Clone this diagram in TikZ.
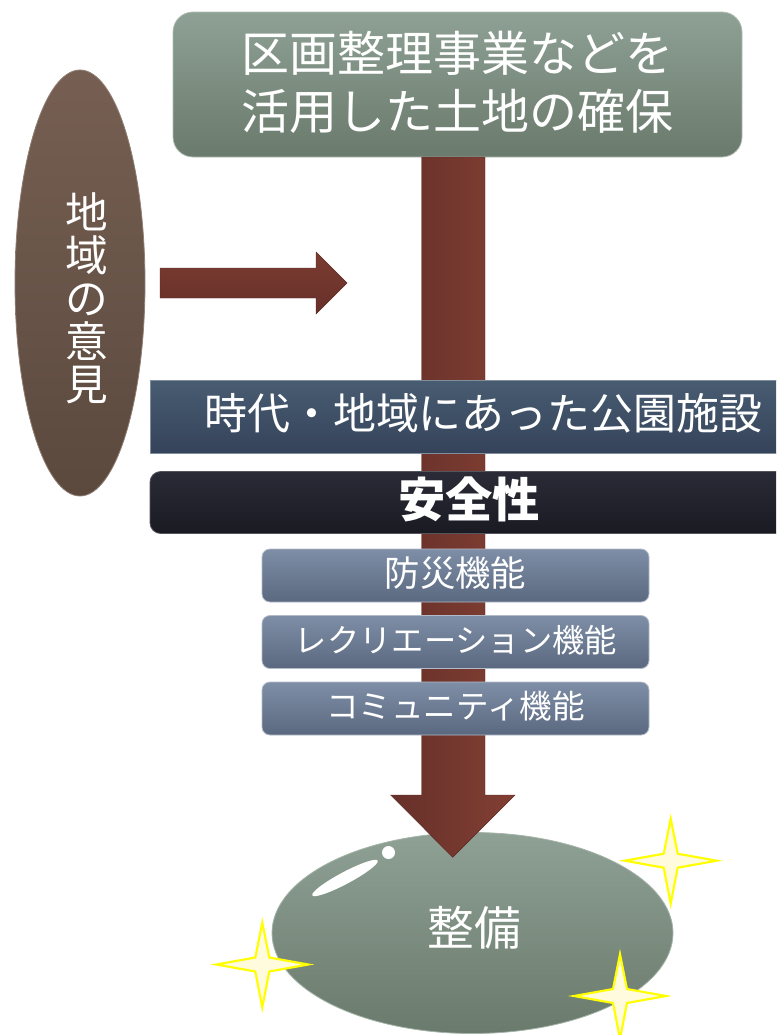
\documentclass[tikz,border=0pt]{standalone}
\usepackage{fontspec}
\setmainfont{Noto Sans CJK JP}
\usetikzlibrary{shapes.geometric}
\def\pxu{0.75pt}
\definecolor{topT}{HTML}{8EA194}
\definecolor{topB}{HTML}{6A7A6D}
\definecolor{opT}{HTML}{765F52}
\definecolor{opB}{HTML}{5B493E}
\definecolor{brL}{HTML}{66302A}
\definecolor{brR}{HTML}{823F33}
\definecolor{b1T}{HTML}{485C72}
\definecolor{b1B}{HTML}{35435A}
\definecolor{b2T}{HTML}{2A2B36}
\definecolor{b2B}{HTML}{191A22}
\definecolor{fT}{HTML}{7E8EA6}
\definecolor{fB}{HTML}{5A6980}
\definecolor{starfill}{HTML}{FFFBDC}
\definecolor{staredge}{HTML}{FFFF00}
\tikzset{
  greenbox/.style={rectangle, rounded corners=15pt, top color=topT, bottom color=topB, draw=topT!70!white, line width=0.6pt, inner sep=0pt},
  opinionshape/.style={ellipse, top color=opT, bottom color=opB, draw=opT!80!white, line width=0.6pt, inner sep=0pt},
  goalshape/.style={ellipse, top color=topT, bottom color=topB, draw=topT!80!white, line width=0.6pt, inner sep=0pt},
  band/.style={rectangle, inner sep=0pt},
  funcbox/.style={rectangle, rounded corners=6pt, top color=fT, bottom color=fB, draw=fT!60!white, line width=0.6pt, inner sep=0pt},
  whitetext/.style={text=white, inner sep=0pt},
  brownarrow/.style={left color=brL, right color=brR, draw=brL!90!black, line width=0.3pt},
  sparkle/.pic={\draw[fill=starfill, draw=staredge, line width=1.6pt, line join=miter]
      (0,-42) -- (7,-7) -- (46,0) -- (7,7) -- (0,43) -- (-7,7) -- (-46,0) -- (-7,-7) -- cycle;}
}
\begin{document}
\begin{tikzpicture}[x=0.75pt,y=-0.75pt]
\useasboundingbox (0,0) rectangle (776,1035);
\begin{scope}
\clip (0,0) rectangle (776,1035);

% top box
\node[greenbox, minimum width=569*\pxu, minimum height=145*\pxu] (top) at (457.5,84.5) {};
\node[whitetext, align=center, font=\fontsize{36}{43.5}\selectfont] (toptext) at (457.5,82) {区画整理事業などを\\活用した土地の確保};

% left ellipse
\node[opinionshape, minimum width=130*\pxu, minimum height=426*\pxu] (opinion) at (80,283) {};
\node[whitetext, align=center, font=\fontsize{32}{32.2}\selectfont] (optext) at (87,298) {地\\域\\の\\意\\見};

% goal ellipse
\node[goalshape, minimum width=401*\pxu, minimum height=201*\pxu] (goal) at (472.5,933) {};
\node[whitetext, font=\fontsize{35}{40}\selectfont] (goaltext) at (474,928) {整備};
\node[ellipse, fill=white, minimum width=74*\pxu, minimum height=12*\pxu, inner sep=0pt, rotate=28] (shine) at (345,878) {};
\node[circle, fill=white, minimum size=13*\pxu, inner sep=0pt] (dot) at (388.5,852.5) {};

% big arrow
\coordinate (bigtop) at (453.3,157);
\coordinate (bigtip) at (452.7,857.3);
\path[brownarrow] (421.7,157) -- (421.7,795) -- (390.7,795) -- (bigtip) -- (515,795) -- (485,795) -- (485,157) -- cycle;

% horizontal arrow
\coordinate (htip) at (347,283);
\path[top color=brR!95!black, bottom color=brL, draw=brL!90!black, line width=0.3pt]
  (160,268) -- (316,268) -- (316,252) -- (htip) -- (316,314) -- (316,298) -- (160,298) -- cycle;

% bands
\node[band, top color=b1T, bottom color=b1B, draw=b1T!70!white, line width=0.6pt, minimum width=640*\pxu, minimum height=73*\pxu] (band1) at (470,416.5) {};
\node[whitetext, anchor=west, font=\fontsize{32.2}{36}\selectfont] (band1text) at (204,413) {時代・地域にあった公園施設};
\node[band, rounded corners=8pt, top color=b2T, bottom color=b2B, draw=b2T!80!white, line width=0.6pt, minimum width=640*\pxu, minimum height=62*\pxu] (band2) at (470,502.5) {};
\node[whitetext, font=\bfseries\fontsize{35.5}{38}\selectfont] (band2text) at (469,499) {安全性};

% function boxes
\node[funcbox, minimum width=387*\pxu, minimum height=53*\pxu] (f1) at (455.5,575.5) {};
\node[whitetext, font=\fontsize{26.5}{30}\selectfont] (f1text) at (455.5,573.5) {防災機能};
\node[funcbox, minimum width=387*\pxu, minimum height=53*\pxu] (f2) at (455.5,642) {};
\node[whitetext, font=\fontsize{24.2}{28}\selectfont] (f2text) at (456,640) {レクリエーション機能};
\node[funcbox, minimum width=387*\pxu, minimum height=53*\pxu] (f3) at (455.5,708.5) {};
\node[whitetext, font=\fontsize{24.4}{28}\selectfont] (f3text) at (455.5,706.5) {コミュニティ機能};

% sparkles
\pic at (670.7,860.7) {sparkle};
\pic at (262.3,964.5) {sparkle};
\pic at (620,996) {sparkle};
\end{scope}
\end{tikzpicture}
\end{document}
